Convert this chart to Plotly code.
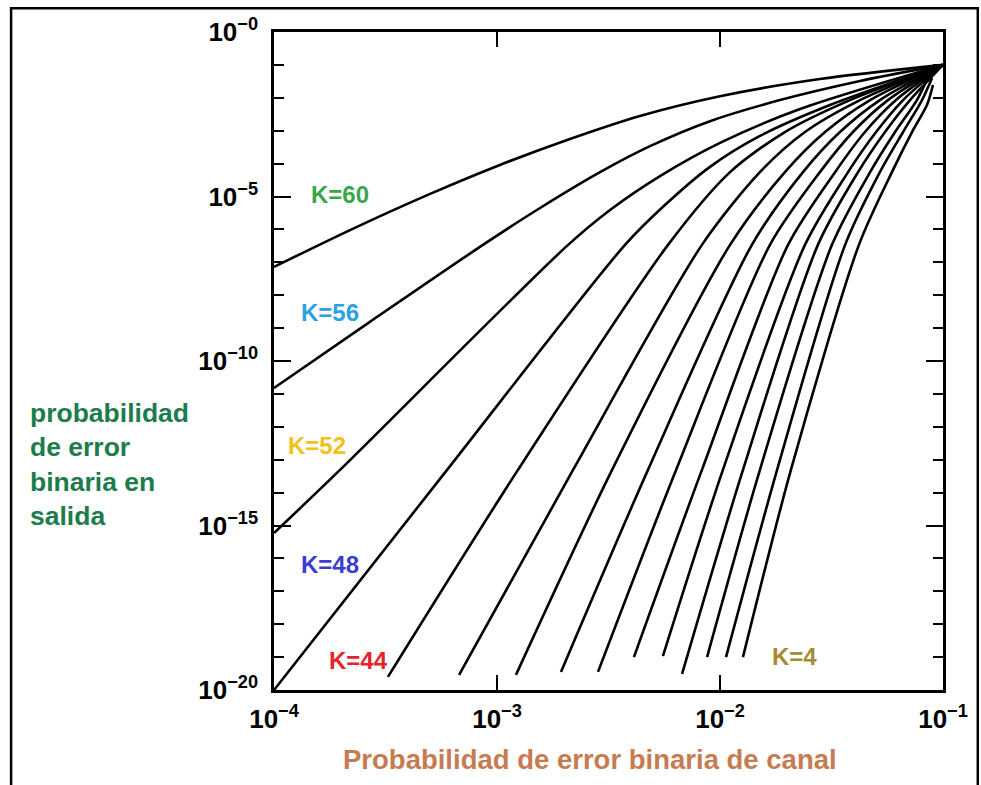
import plotly.graph_objects as go

# ---- data (log10 of channel BER p, log10 of output BER) ----
K_labels = [60, 56, 52, 48, 44, 40, 36, 32, 28, 24, 20, 16, 12, 8, 4]

logp_k60 = [-4.000, -3.659, -3.300, -2.987, -2.673, -2.359, -2.000, -1.552, -1.000]
logP_k60 = [-7.14, -6.02, -4.92, -4.04, -3.25, -2.55, -1.95, -1.43, -1.00]
logp_k56 = [-4.000, -3.570, -3.063, -2.807, -2.538, -2.314, -2.045, -1.731, -1.372, -1.000]
logP_k56 = [-10.82, -8.81, -6.47, -5.35, -4.26, -3.47, -2.71, -2.07, -1.49, -1.00]
logp_k52 = [-4.000, -3.704, -2.686, -2.493, -2.269, -2.000, -1.641, -1.000]
logP_k52 = [-15.23, -13.31, -6.50, -5.41, -4.38, -3.37, -2.34, -1.00]
logp_k48 = [-4.000, -3.224, -2.426, -2.247, -2.045, -1.821, -1.507, -1.000]
logP_k48 = [-20.00, -13.31, -6.47, -5.26, -4.10, -3.16, -2.22, -1.00]
logp_k44 = [-3.489, -2.906, -2.233, -1.955, -1.709, -1.417, -1.000]
logP_k44 = [-19.60, -13.31, -6.47, -4.26, -3.04, -2.07, -1.00]
logp_k40 = [-3.170, -2.659, -2.081, -1.821, -1.619, -1.372, -1.000]
logP_k40 = [-19.54, -13.31, -6.47, -4.26, -3.04, -2.07, -1.00]
logp_k36 = [-2.915, -2.484, -1.955, -1.709, -1.529, -1.327, -1.000]
logP_k36 = [-19.54, -13.31, -6.47, -4.26, -3.04, -2.07, -1.00]
logp_k32 = [-2.713, -2.323, -1.857, -1.628, -1.462, -1.283, -1.000]
logP_k32 = [-19.45, -13.31, -6.47, -4.26, -3.04, -2.07, -1.00]
logp_k28 = [-2.547, -2.197, -1.776, -1.552, -1.404, -1.247, -1.000]
logP_k28 = [-19.45, -13.31, -6.47, -4.26, -3.04, -2.07, -1.00]
logp_k24 = [-2.386, -2.081, -1.695, -1.484, -1.350, -1.211, -1.000]
logP_k24 = [-19.00, -13.31, -6.47, -4.26, -3.04, -2.07, -1.00]
logp_k20 = [-2.256, -1.987, -1.619, -1.426, -1.300, -1.179, -1.000]
logP_k20 = [-18.97, -13.31, -6.47, -4.26, -3.04, -2.07, -1.00]
logp_k16 = [-2.170, -1.897, -1.561, -1.381, -1.260, -1.148, -1.000]
logP_k16 = [-19.51, -13.31, -6.47, -4.26, -3.04, -2.07, -1.00]
logp_k12 = [-2.058, -1.821, -1.498, -1.327, -1.215, -1.117, -1.063]
logP_k12 = [-19.00, -13.31, -6.47, -4.26, -3.04, -2.07, -1.31]
logp_k8 = [-1.973, -1.744, -1.439, -1.283, -1.179, -1.094, -1.049]
logP_k8 = [-19.00, -13.31, -6.47, -4.26, -3.04, -2.07, -1.40]
logp_k4 = [-1.897, -1.682, -1.377, -1.229, -1.139, -1.072, -1.045]
logP_k4 = [-19.00, -13.31, -6.47, -4.26, -3.04, -2.22, -1.61]

curves_logp = [logp_k60, logp_k56, logp_k52, logp_k48, logp_k44, logp_k40, logp_k36,
               logp_k32, logp_k28, logp_k24, logp_k20, logp_k16, logp_k12, logp_k8, logp_k4]
curves_logP = [logP_k60, logP_k56, logP_k52, logP_k48, logP_k44, logP_k40, logP_k36,
               logP_k32, logP_k28, logP_k24, logP_k20, logP_k16, logP_k12, logP_k8, logP_k4]

x_tick_exps = [-4, -3, -2, -1]
y_tick_exps = [0, -5, -10, -15, -20]
y_minor_exps = [e for e in range(-19, 0) if e % 5 != 0]

# curve labels: text, colour, position (log10 p, log10 P)
label_texts = ["K=60", "K=56", "K=52", "K=48", "K=44", "K=4"]
label_colors = ["#36a84a", "#2aa2e2", "#f2c11c", "#3c3cd2", "#e8222c", "#a48c32"]
label_logp = [-3.704, -3.749, -3.807, -3.749, -3.623, -1.664]
label_logP = [-4.95, -8.54, -12.58, -16.20, -19.09, -18.97]

fig = go.Figure()
for K, lp, lP in zip(K_labels, curves_logp, curves_logP):
    fig.add_trace(go.Scatter(
        x=[10 ** v for v in lp], y=[10 ** v for v in lP], mode="lines",
        line=dict(color="black", width=2.6, shape="spline", smoothing=0.8),
        name=f"K={K}", showlegend=False, hoverinfo="skip"))

FONT = "Liberation Sans, Arial, sans-serif"

for t, c, xp, yp in zip(label_texts, label_colors, label_logp, label_logP):
    fig.add_annotation(x=xp, y=yp, xref="x", yref="y", text=f"<b>{t}</b>",
                       showarrow=False, font=dict(family=FONT, size=24, color=c))

# axis titles
fig.add_annotation(x=-0.368, y=0.447, xref="paper", yref="paper", xanchor="left", yanchor="top",
                   align="left", showarrow=False,
                   text="<b>probabilidad<br>de error<br>binaria en<br>salida</b>",
                   font=dict(family=FONT, size=26.5, color="#1c7c4c"))
fig.add_annotation(x=0.472, y=-0.106, xref="paper", yref="paper", xanchor="center", yanchor="middle",
                   showarrow=False, text="<b>Probabilidad de error binaria de canal</b>",
                   font=dict(family=FONT, size=27.5, color="#c67b52"))

# outer frame of the picture
fig.add_shape(type="rect", xref="paper", yref="paper", x0=-0.393, x1=1.052, y0=-0.16, y1=1.036,
              line=dict(color="black", width=2.5), fillcolor="rgba(0,0,0,0)", layer="below")

tick_font = dict(family=FONT, size=26, color="black", weight="bold")

fig.update_xaxes(type="log", range=[-4, -1],
                 tickvals=[10 ** e for e in x_tick_exps],
                 ticktext=[f"10<sup>\u2212{-e}</sup>" for e in x_tick_exps],
                 ticks="inside", ticklen=15, tickwidth=2, tickcolor="black",
                 showline=True, linecolor="black", linewidth=2.5, mirror="ticks",
                 showgrid=False, zeroline=False, ticklabelstandoff=4,
                 tickfont=tick_font)
fig.update_yaxes(type="log", range=[-20, 0],
                 tickvals=[10.0 ** e for e in y_tick_exps],
                 ticktext=[f"10<sup>\u2212{-e}</sup>" for e in y_tick_exps],
                 ticks="inside", ticklen=17, tickwidth=2, tickcolor="black",
                 minor=dict(tickvals=[10.0 ** e for e in y_minor_exps], ticks="inside",
                            ticklen=10, tickwidth=2, tickcolor="black", showgrid=False),
                 showline=True, linecolor="black", linewidth=2.5, mirror="ticks",
                 showgrid=False, zeroline=False, ticklabelstandoff=8,
                 tickfont=tick_font)

fig.update_layout(width=981, height=785, margin=dict(l=274, r=38, t=32, b=95),
                  paper_bgcolor="white", plot_bgcolor="white", showlegend=False)

fig.write_html("out.html")
